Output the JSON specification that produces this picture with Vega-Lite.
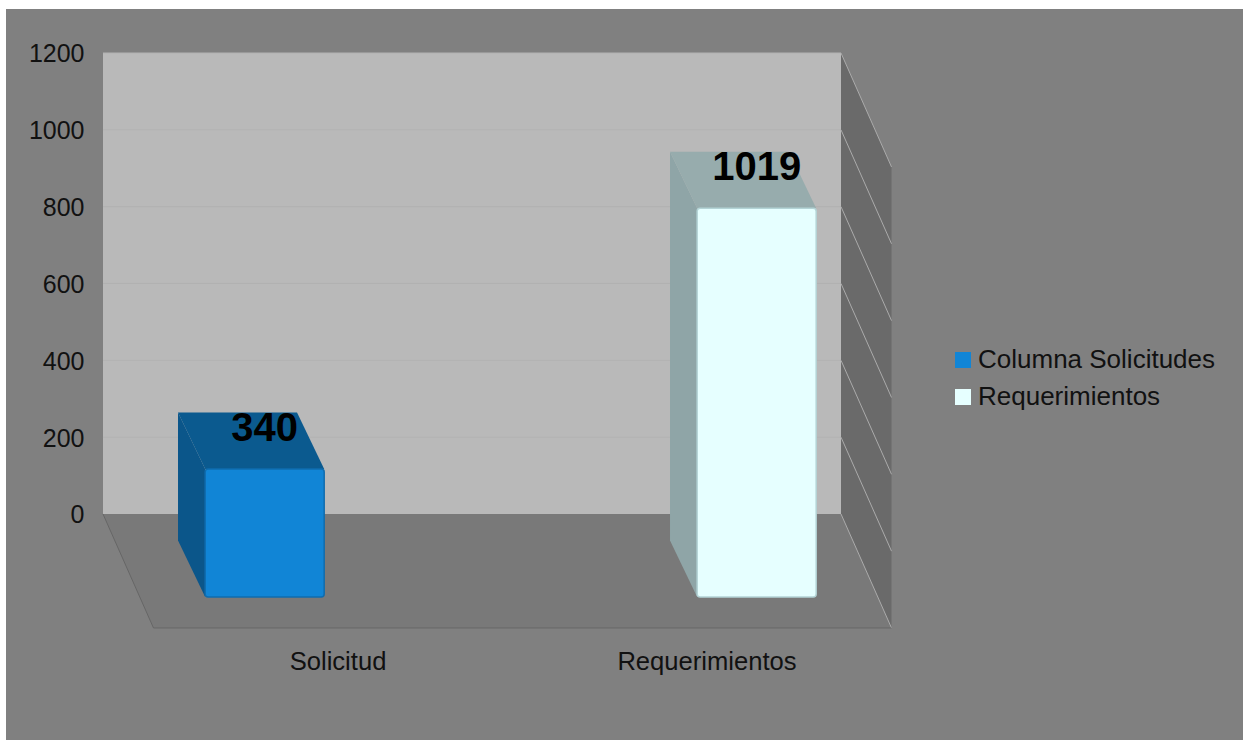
{
"$schema":"https://vega.github.io/schema/vega-lite/v6.json",
"autosize":{"type":"none"},
"padding":{"left":6,"top":9,"right":0,"bottom":0},
"width":1237,"height":731,
"background":"#ffffff",
"view":{"fill":"#808080","stroke":null},
"datasets":{
"bars":[{"category":"Solicitud","series":"Columna Solicitudes","value":340,"index":0},{"category":"Requerimientos","series":"Requerimientos","value":1019,"index":1}],
"ticks":[{"tick":0},{"tick":200},{"tick":400},{"tick":600},{"tick":800},{"tick":1000},{"tick":1200}],
"frame":[{"depth":0},{"depth":1}]
},
"encoding":{
"x":{"type":"quantitative","axis":null,"scale":{"domain":[-0.26287,3.08943],"nice":false,"zero":false}},
"y":{"type":"quantitative","scale":{"domain":[-588.3,1314.5],"nice":false,"zero":false},"axis":{"title":null,"values":[0,200,400,600,800,1000,1200],"format":"d","domain":false,"ticks":false,"grid":false,"labelFont":"Liberation Sans","labelFontSize":25,"labelColor":"#111111","labelPadding":0,"labelOffset":1,"offset":-78}}
},
"layer":[
{"data":{"name":"frame"},"transform":[{"calculate":"datum.depth*0.1369","as":"fx"},{"calculate":"2+datum.fx","as":"fx2"},{"calculate":"-296.7*datum.depth","as":"fy"},{"calculate":"1200+datum.fy","as":"fy2"}],
"layer":[
{"mark":{"type":"area","orient":"horizontal","color":"#797979"},"encoding":{"y":{"field":"fy","stack":null},"x":{"field":"fx"},"x2":{"field":"fx2"}}},
{"mark":{"type":"area","color":"#6a6a6a"},"encoding":{"x":{"field":"fx2"},"y":{"field":"fy","stack":null},"y2":{"field":"fy2"}}}
]},
{"data":{"values":[{"left":0,"right":2,"bottom":0,"top":1200}]},"mark":{"type":"rect","color":"#b9b9b9"},"encoding":{"x":{"field":"left"},"x2":{"field":"right"},"y":{"field":"bottom"},"y2":{"field":"top"}}},
{"data":{"name":"ticks"},"transform":[{"filter":"datum.tick>0"},{"calculate":"0","as":"a"},{"calculate":"2","as":"b"}],"mark":{"type":"rule","color":"#b2b2b2","strokeWidth":1},"encoding":{"x":{"field":"a"},"x2":{"field":"b"},"y":{"field":"tick"}}},
{"data":{"name":"ticks"},"transform":[{"calculate":"2","as":"a"},{"calculate":"2.1369","as":"b"},{"calculate":"datum.tick-296.7","as":"t2"}],"mark":{"type":"rule","color":"#ababab","strokeWidth":1},"encoding":{"x":{"field":"a"},"x2":{"field":"b"},"y":{"field":"tick"},"y2":{"field":"t2"}}},
{"data":{"values":[{"a":0,"b":0.1369,"c":0,"d":-296.7},{"a":0.1369,"b":2.1369,"c":-296.7,"d":-296.7}]},"mark":{"type":"rule","color":"#666666","strokeWidth":1},"encoding":{"x":{"field":"a"},"x2":{"field":"b"},"y":{"field":"c"},"y2":{"field":"d"}}},
{"data":{"name":"bars"},
"transform":[
{"calculate":"datum.index*1.3333+0.177","as":"u0"},
{"calculate":"datum.u0+0.3225","as":"u1"},
{"calculate":"datum.value-7","as":"top"},
{"calculate":"[0,1]","as":"pt"},
{"flatten":["pt"]},
{"calculate":"datum.pt==0?0.0263:0.0999","as":"dx"},
{"calculate":"datum.pt==0?-69:-216.05","as":"dy"},
{"calculate":"datum.u0+datum.dx","as":"sx"},
{"calculate":"datum.u1+datum.dx","as":"sx2"},
{"calculate":"datum.top+datum.dy","as":"sy"},
{"calculate":"datum.dy","as":"sy2"},
{"calculate":"datum.series=='Requerimientos'?'#8fa5a7':'#0b568a'","as":"sideFill"},
{"calculate":"datum.series=='Requerimientos'?'#97acad':'#0b5a8f'","as":"topFill"}
],
"layer":[
{"mark":{"type":"area"},"encoding":{"x":{"field":"sx"},"y":{"field":"sy","stack":null},"y2":{"field":"sy2"},"detail":{"field":"category"},"fill":{"field":"sideFill","type":"nominal","scale":null}}},
{"mark":{"type":"area","orient":"horizontal"},"encoding":{"y":{"field":"sy","stack":null},"x":{"field":"sx"},"x2":{"field":"sx2"},"detail":{"field":"category"},"fill":{"field":"topFill","type":"nominal","scale":null}}}
]},
{"data":{"name":"bars"},
"transform":[
{"calculate":"datum.index*1.3333+0.177+0.0999","as":"fx"},
{"calculate":"datum.fx+0.3225","as":"fx2"},
{"calculate":"datum.value-7-216.05","as":"fy"},
{"calculate":"-216.05","as":"fy0"},
{"calculate":"datum.series=='Requerimientos'?'#b4d4d6':'#0f6cae'","as":"edge"}
],
"mark":{"type":"rect","cornerRadius":3,"strokeWidth":1.5},
"encoding":{"x":{"field":"fx"},"x2":{"field":"fx2"},"y":{"field":"fy"},"y2":{"field":"fy0"},
"stroke":{"field":"edge","type":"nominal","scale":null},
"color":{"field":"series","type":"nominal","sort":null,"scale":{"domain":["Columna Solicitudes","Requerimientos"],"range":["#1185d6","#e6ffff"]},
"legend":{"title":null,"orient":"none","legendX":944,"legendY":338,"symbolType":"square","symbolSize":256,"symbolStrokeWidth":0,"labelFont":"Liberation Sans","labelFontSize":26,"labelColor":"#111111","rowPadding":11,"labelOffset":2,"labelLimit":300}}}},
{"data":{"name":"bars"},
"transform":[{"calculate":"datum.index*1.3333+0.177+0.0999+0.1612","as":"cx"},{"calculate":"datum.value-119","as":"ly"}],
"mark":{"type":"text","font":"Liberation Sans","fontSize":40,"fontWeight":"bold","color":"#000000","align":"center","baseline":"middle"},
"encoding":{"x":{"field":"cx"},"y":{"field":"ly"},"text":{"field":"value","type":"quantitative"}}},
{"data":{"name":"bars"},
"transform":[{"calculate":"datum.index+0.6369","as":"cx"},{"calculate":"-385","as":"ly"}],
"mark":{"type":"text","font":"Liberation Sans","fontSize":25.6,"color":"#111111","align":"center","baseline":"middle"},
"encoding":{"x":{"field":"cx"},"y":{"field":"ly"},"text":{"field":"category","type":"nominal"}}}
]
}
